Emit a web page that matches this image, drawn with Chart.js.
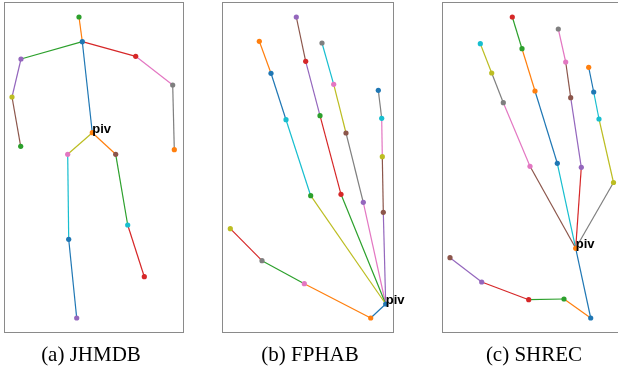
<!DOCTYPE html>
<html>
<head>
<meta charset="utf-8">
<script src="https://cdn.jsdelivr.net/npm/chart.js@4.4.1/dist/chart.umd.min.js"></script>
<style>
  body { margin: 0; width: 618px; height: 377px; overflow: hidden; background: #fff; position: relative; }
  canvas { position: absolute; }
  .cap { position: absolute; top: 344px; width: 200px; text-align: center;
         font-family: "Liberation Serif", "Times New Roman", serif; font-size: 21px; line-height: 21px; color: #000; }
</style>
</head>
<body>
<canvas id="jhmdb"></canvas>
<canvas id="fphab"></canvas>
<canvas id="shrec"></canvas>
<div class="cap" style="left:-9px">(a) JHMDB</div>
<div class="cap" style="left:210px">(b) FPHAB</div>
<div class="cap" style="left:434px">(c) SHREC</div>
<script>
// tab10 colours
const C = {
    blue: '#1f77b4', orange: '#ff7f0e', green: '#2ca02c', red: '#d62728', purple: '#9467bd',
    brown: '#8c564b', pink: '#e377c2', gray: '#7f7f7f', olive: '#bcbd22', cyan: '#17becf'
};

// (a) JHMDB - body joints
const jhmdbX = [79, 82.3, 21, 12, 20.7, 135.7, 172.7, 174.3, 92.3, 67.7, 68.7, 76.7, 115.7, 127.7, 144.3];
const jhmdbY = [17, 41.7, 59, 97, 146.3, 56.3, 85, 149.7, 132.7, 154.3, 239.3, 318, 154.3, 225, 276.7];
const jhmdbEdges = [[0,1],[1,2],[2,3],[3,4],[1,5],[5,6],[6,7],[1,8],[8,9],[9,10],[10,11],[8,12],[12,13],[13,14]];
const jhmdbPivot = 8;
const jhmdbJointColors = ['green','blue','purple','olive','green','red','gray','orange','orange','pink','blue','purple','brown','cyan','red'];
const jhmdbEdgeColors = ['orange','green','purple','brown','red','pink','gray','blue','olive','cyan','blue','orange','green','red'];

// (b) FPHAB - hand joints
const fphabX = [385.7, 370.7, 304.3, 262, 230.3, 310.7, 286, 271, 259.3, 341, 320, 305.7, 296.3, 363.3, 346, 333.7, 322, 383.3, 382.3, 381.7, 378.3];
const fphabY = [304, 318, 283.7, 260.7, 228.7, 195.7, 119.7, 73.3, 41.3, 194.3, 115.7, 61.3, 17, 202.3, 133, 84.3, 43, 212.3, 156.7, 118.3, 90.3];
const fphabEdges = [[0,1],[1,2],[2,3],[3,4],[0,5],[5,6],[6,7],[7,8],[0,9],[9,10],[10,11],[11,12],
                    [0,13],[13,14],[14,15],[15,16],[0,17],[17,18],[18,19],[19,20]];
const fphabPivot = 0;
const fphabJointColors = ['blue','orange','pink','gray','olive','green','cyan','blue','orange','red','green','red','purple',
                          'purple','brown','pink','gray','brown','olive','cyan','blue'];
const fphabEdgeColors = ['blue','orange','green','red','olive','cyan','blue','orange','green','red','purple','brown',
                         'pink','gray','olive','cyan','purple','brown','pink','gray'];

// (c) SHREC - hand joints
const shrecX = [575.7, 590.7, 564, 528.7, 481.7, 450, 530, 503.3, 491.7, 480.3, 557.3, 535, 522, 512.3, 581.3, 570.7, 565.7, 558.3, 613.5, 599, 593.7, 588.7];
const shrecY = [248.3, 318, 299, 299.7, 282, 257.7, 166.3, 102.7, 73, 43.7, 163.3, 91, 48.7, 17, 167.3, 97.7, 62, 29, 182.5, 119, 92, 67.3];
const shrecEdges = [[0,1],[1,2],[2,3],[3,4],[4,5],[0,6],[6,7],[7,8],[8,9],[0,10],[10,11],[11,12],[12,13],
                    [0,14],[14,15],[15,16],[16,17],[0,18],[18,19],[19,20],[20,21]];
const shrecPivot = 0;
const shrecJointColors = ['orange','blue','green','red','purple','brown','pink','gray','olive','cyan','blue','orange','green','red',
                          'purple','brown','pink','gray','olive','cyan','blue','orange'];
const shrecEdgeColors = ['blue','orange','green','red','purple','brown','pink','gray','olive','cyan','blue','orange','green',
                         'red','purple','brown','pink','gray','olive','cyan','blue'];

// room round each frame so the "piv" label can run past the border
const PAD = 20;

function makePanel(id, box, xs, ys, jointColors, edges, edgeColors, pivot) {
    const canvas = document.getElementById(id);
    canvas.width = box.x1 - box.x0 + 2 * PAD;
    canvas.height = box.y1 - box.y0 + 2 * PAD;
    canvas.style.left = (box.x0 - PAD) + 'px';
    canvas.style.top = (box.y0 - PAD) + 'px';

    const datasets = [{
        data: xs.map((x, i) => ({ x: x, y: ys[i] })),
        pointBackgroundColor: jointColors.map(c => C[c]),
        pointBorderWidth: 0,
        pointRadius: 2.6,
        showLine: false,
        order: 0,
        clip: false
    }];
    edges.forEach((e, i) => {
        datasets.push({
            data: [{ x: xs[e[0]], y: ys[e[0]] }, { x: xs[e[1]], y: ys[e[1]] }],
            showLine: true,
            borderColor: C[edgeColors[i]],
            borderWidth: 1.2,
            pointRadius: 0,
            order: 1,
            clip: false
        });
    });

    const framePlugin = {
        id: 'frame',
        beforeDatasetsDraw(chart) {
            const a = chart.chartArea, ctx = chart.ctx;
            ctx.save();
            ctx.strokeStyle = '#8a8a8a';
            ctx.lineWidth = 1;
            ctx.strokeRect(Math.round(a.left) + 0.5, Math.round(a.top) + 0.5,
                           Math.round(a.right - a.left), Math.round(a.bottom - a.top));
            ctx.restore();
        },
        afterDatasetsDraw(chart) {
            // "piv" label next to the pivot joint
            const ctx = chart.ctx;
            const px = chart.scales.x.getPixelForValue(xs[pivot]);
            const py = chart.scales.y.getPixelForValue(ys[pivot]);
            ctx.save();
            ctx.fillStyle = '#000';
            ctx.font = 'bold 13px "Liberation Sans", Arial, sans-serif';
            ctx.textAlign = 'left';
            ctx.textBaseline = 'alphabetic';
            ctx.fillText('piv', px, py);
            ctx.restore();
        }
    };

    new Chart(canvas, {
        type: 'scatter',
        data: { datasets: datasets },
        options: {
            responsive: false,
            animation: false,
            devicePixelRatio: 1,
            events: [],
            layout: { padding: PAD },
            plugins: { legend: { display: false }, tooltip: { enabled: false } },
            scales: {
                x: { type: 'linear', display: false, min: box.x0, max: box.x1 },
                y: { type: 'linear', display: false, min: box.y0, max: box.y1, reverse: true }
            }
        },
        plugins: [framePlugin]
    });
}

makePanel('jhmdb', { x0: 4, x1: 183, y0: 2, y1: 332 }, jhmdbX, jhmdbY, jhmdbJointColors, jhmdbEdges, jhmdbEdgeColors, jhmdbPivot);
makePanel('fphab', { x0: 222, x1: 393, y0: 2, y1: 332 }, fphabX, fphabY, fphabJointColors, fphabEdges, fphabEdgeColors, fphabPivot);
makePanel('shrec', { x0: 442, x1: 650, y0: 2, y1: 332 }, shrecX, shrecY, shrecJointColors, shrecEdges, shrecEdgeColors, shrecPivot);
</script>
</body>
</html>
